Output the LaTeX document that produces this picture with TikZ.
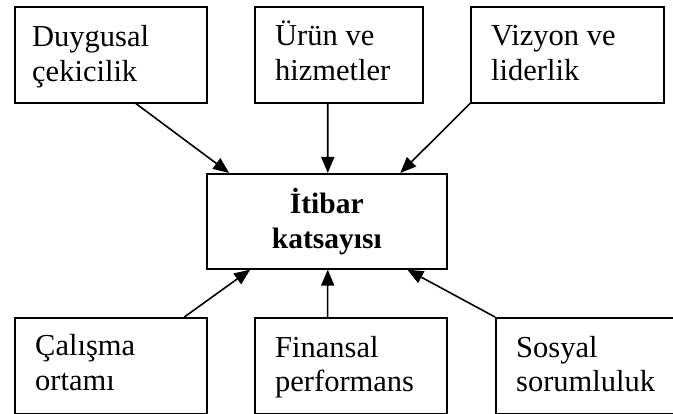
\documentclass[tikz,border=0pt]{standalone}
\usepackage{fontspec}
\setmainfont{Liberation Serif}
\usetikzlibrary{calc,arrows.meta}
\begin{document}
\begin{tikzpicture}[x=1pt,y=1pt,
  box/.style={draw,line width=1.6pt,inner sep=0pt,anchor=north west,minimum height=96pt},
  lbl/.style={anchor=base west,inner sep=0pt,align=left,font=\fontsize{30.5}{35}\selectfont},
  arr/.style={line width=1.6pt,-{Triangle[length=16pt,width=13pt]}}]
\useasboundingbox (0,0) rectangle (673,-414);
\clip (0,0) rectangle (673,-414);
% boxes
\node[box,minimum width=192pt] (d1) at (14,-6) {};
\node[box,minimum width=168pt] (d2) at (254,-6) {};
\node[box,minimum width=193pt] (d3) at (470,-6) {};
\node[box,minimum width=192pt] (d4) at (14,-317) {};
\node[box,minimum width=192pt] (d5) at (254,-317) {};
\node[box,minimum width=240pt] (d6) at (495,-317) {};
\node[box,minimum width=240pt,minimum height=95pt,align=center,
      font=\fontsize{29.5}{35}\selectfont\bfseries] (c) at (206,-173) {İtibar\\katsayısı};
% texts (anchor = baseline of the last line)
\node[lbl] (t1) at ([shift={(18pt,-75.5pt)}]d1.north west) {Duygusal\\çekicilik};
\node[lbl] (t2) at ([shift={(21pt,-75pt)}]d2.north west) {Ürün ve\\hizmetler};
\node[lbl] (t3) at ([shift={(21pt,-75pt)}]d3.north west) {Vizyon ve\\liderlik};
\node[lbl] (t4) at ([shift={(21pt,-74pt)}]d4.north west) {Çalışma\\ortamı};
\node[lbl] (t5) at ([shift={(21pt,-75pt)}]d5.north west) {Finansal\\performans};
\node[lbl] (t6) at ([shift={(21pt,-75pt)}]d6.north west) {Sosyal\\sorumluluk};
% arrows
\draw[arr] ($(d1.south west)!0.63!(d1.south east)$) -- ($(c.north west)!0.096!(c.north east)$);
\draw[arr] ($(d2.south west)!0.435!(d2.south east)$) -- ($(c.north west)!0.504!(c.north east)$);
\draw[arr] (d3.south west) -- ($(c.north west)!0.804!(c.north east)$);
\draw[arr] ($(d4.north west)!0.88!(d4.north east)$) -- ($(c.south west)!0.183!(c.south east)$);
\draw[arr] ($(d5.north west)!0.38!(d5.north east)$) -- ($(c.south west)!0.504!(c.south east)$);
\draw[arr] (d6.north west) -- ($(c.south west)!0.833!(c.south east)$);
\end{tikzpicture}
\end{document}
